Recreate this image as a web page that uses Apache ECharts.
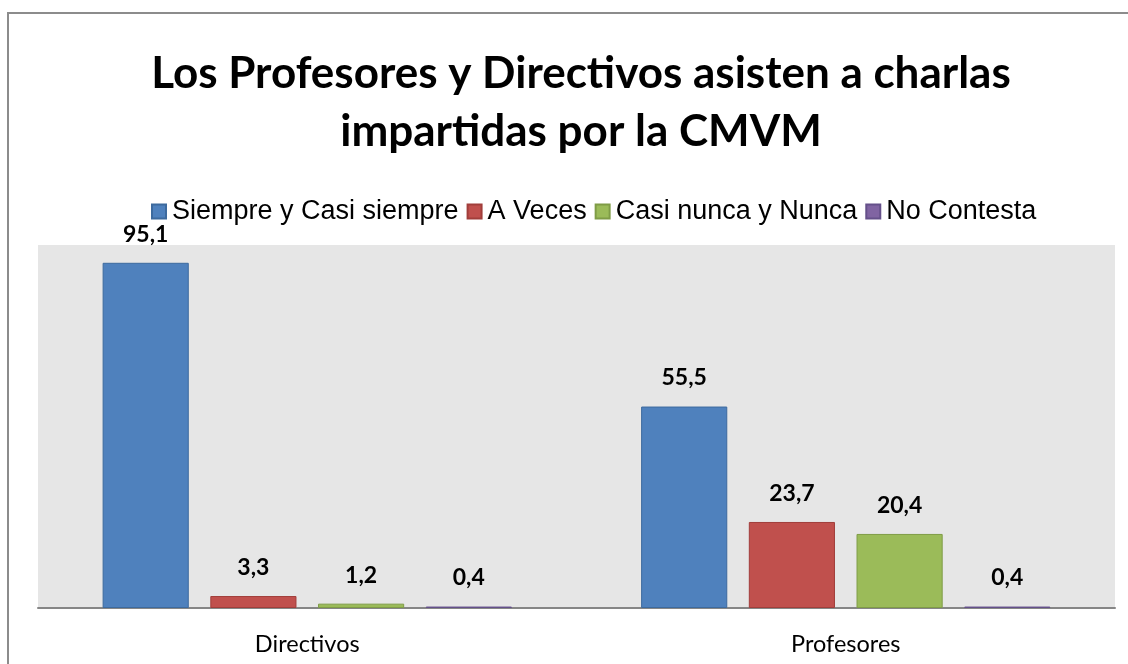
<!DOCTYPE html>
<html>
<head>
    <meta charset="utf-8">
    <title>CMVM charlas</title>
    <script src="https://cdn.jsdelivr.net/npm/echarts@6/dist/echarts.min.js"></script>
    <style>
        html, body { margin: 0; padding: 0; background: #fff; }
        #main { width: 1128px; height: 664px; }
    </style>
</head>
<body>
<div id="main"></div>
<script type="text/javascript">
    var categories = ['Directivos', 'Profesores'];
    var seriesNames = ['Siempre y Casi siempre', 'A Veces', 'Casi nunca y Nunca', 'No Contesta'];
    var siempre = [95.1, 55.5];
    var aVeces = [3.3, 23.7];
    var casiNunca = [1.2, 20.4];
    var noContesta = [0.4, 0.4];
    var colors = ['#4F81BD', '#C0504D', '#9BBB59', '#8064A2'];
    var borders = ['#3d6a9e', '#a13e3b', '#7f9c46', '#65508a'];

    var myChart = echarts.init(document.getElementById('main'));

    function makeSeries(i, data) {
        return {
            name: seriesNames[i],
            type: 'bar',
            data: data,
            barGap: '25%',
            barCategoryGap: '24%',
            itemStyle: { color: colors[i], borderColor: borders[i], borderWidth: 1 },
            label: {
                show: true,
                position: 'top',
                distance: 17,
                formatter: function (p) { return String(p.value).replace('.', ','); },
                fontFamily: 'Lato',
                fontWeight: 'bold',
                fontSize: 23,
                color: '#000'
            }
        };
    }

    var option = {
        backgroundColor: '#fff',
        animation: false,
        title: {
            text: 'Los Profesores y Directivos asisten a charlas\nimpartidas por la CMVM',
            left: 576,
            textAlign: 'center',
            top: 40,
            textStyle: {
                fontFamily: 'Lato',
                fontWeight: 'bold',
                fontSize: 44,
                lineHeight: 58,
                color: '#000'
            }
        },
        legend: {
            data: seriesNames,
            top: 193,
            left: 146,
            itemWidth: 14,
            itemHeight: 14,
            itemGap: 8,
            icon: 'rect',
            textStyle: { fontFamily: 'Liberation Sans', fontSize: 27, color: '#000', padding: [0, 0, 0, 1] }
        },
        grid: {
            left: 38, right: 13, top: 245, bottom: 56,
            show: true, backgroundColor: '#e6e6e6', borderWidth: 0
        },
        xAxis: {
            type: 'category',
            data: categories,
            axisLine: { lineStyle: { color: '#868686', width: 2 } },
            axisTick: { show: false },
            axisLabel: { margin: 24, fontFamily: 'Lato', fontSize: 23.5, color: '#000' }
        },
        yAxis: {
            type: 'value',
            min: 0,
            max: 100,
            show: false
        },
        graphic: [{
            type: 'rect',
            shape: { x: 8, y: 13, width: 1200, height: 700 },
            style: { fill: 'none', stroke: '#8c8c8c', lineWidth: 2 },
            silent: true
        }],
        series: [
            makeSeries(0, siempre),
            makeSeries(1, aVeces),
            makeSeries(2, casiNunca),
            makeSeries(3, noContesta)
        ]
    };

    myChart.setOption(option);
</script>
</body>
</html>
